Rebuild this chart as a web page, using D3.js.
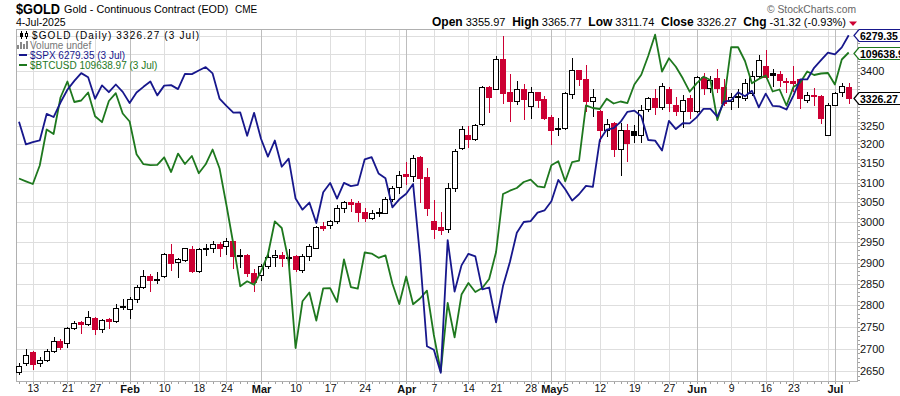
<!DOCTYPE html>
<html>
<head>
<meta charset="utf-8">
<script src="https://cdn.jsdelivr.net/npm/d3@7"></script>
<style>
  body { margin: 0; background: #fff; }
  svg { display: block; font-family: "Liberation Sans", Arial, sans-serif; }
</style>
</head>
<body>
<div id="chart"></div>
<script>
/* DATA */
const dates = ["01-08","01-10","01-13","01-14","01-15","01-16","01-17","01-21","01-22","01-23","01-24","01-27","01-28","01-29","01-30","01-31",
  "02-03","02-04","02-05","02-06","02-07","02-10","02-11","02-12","02-13","02-14","02-18","02-19","02-20","02-21","02-24","02-25","02-26","02-27","02-28",
  "03-03","03-04","03-05","03-06","03-07","03-10","03-11","03-12","03-13","03-14","03-17","03-18","03-19","03-20","03-21","03-24","03-25","03-26","03-27","03-28","03-31",
  "04-01","04-02","04-03","04-04","04-07","04-08","04-09","04-10","04-11","04-14","04-15","04-16","04-17","04-21","04-22","04-23","04-24","04-25","04-28","04-29","04-30",
  "05-01","05-02","05-05","05-06","05-07","05-08","05-09","05-12","05-13","05-14","05-15","05-16","05-19","05-20","05-21","05-22","05-23","05-27","05-28","05-29","05-30",
  "06-02","06-03","06-04","06-05","06-06","06-09","06-10","06-11","06-12","06-13","06-16","06-17","06-18","06-20","06-23","06-24","06-25","06-26","06-27","06-30",
  "07-01","07-02","07-03"];

const open = [2648,2669,2692,2668,2675,2696,2718,2713,2747,2760, 2757,2770,2744,2768,2764,2797,2791,2813,2842,2868,
  2862,2868,2921,2901,2907,2933,2881,2937,2937,2945, 2941,2952,2920,2919,2876,2871,2893,2914,2919,2913,
  2917,2883,2916,2937,2990,2992,3002,3035,3050,3048, 3026,3011,3025,3023,3057,3088,3122,3116,3167,3113,
  3002,2987,2982,3087,3190,3225,3213,3254,3355,3350, 3436,3341,3318,3351,3304,3341,3322,3274,3243,3244,
  3336,3403,3379,3318,3291,3238,3257,3187,3238,3236, 3226,3294,3325,3302,3349,3305,3291,3325,3291,3383,
  3354,3382,3356,3316,3330,3325,3340,3387,3414,3396, 3391,3374,3372,3377,3321,3333,3331,3225,3307,3341,3355.97];

const high = [2669,2699,2696,2681,2700,2727,2721,2749,2764,2763, 2787,2773,2768,2769,2802,2814,2819,2848,2882,2872,
  2879,2924,2946,2912,2937,2941,2937,2945,2954,2950, 2960,2954,2933,2921,2886,2898,2929,2930,2927,2933,
  2919,2921,2946,2991,3000,3006,3043,3054,3058,3052, 3035,3031,3035,3062,3091,3130,3153,3171,3168,3138,
  3056,3025,3100,3187,3248,3248,3254,3359,3359,3443, 3500,3391,3373,3365,3356,3343,3332,3279,3272,3341,
  3438,3403,3418,3350,3293,3268,3259,3256,3254,3252, 3307,3327,3350,3368,3355,3329,3334,3334,3386,3395,
  3386,3407,3379,3339,3350,3377,3400,3447,3462,3407, 3400,3382,3414,3377,3342,3354,3334,3311,3343,3366,3365.77];

const low = [2645,2664,2656,2661,2672,2692,2700,2703,2744,2735, 2755,2733,2739,2746,2760,2791,2770,2807,2839,2833,
  2851,2865,2882,2866,2905,2878,2879,2919,2926,2916, 2922,2888,2891,2869,2833,2859,2888,2893,2892,2891,
  2880,2879,2907,2935,2981,2984,2998,3026,3028,3002, 3003,3008,3014,3023,3054,3074,3097,3104,3050,3017,
  2960,2971,2974,3078,3187,3194,3212,3252,3286,3350, 3311,3262,3309,3268,3271,3300,3268,3202,3225,3242,
  3325,3362,3291,3277,3209,3223,3169,3120,3157,3207, 3205,3289,3282,3295,3291,3280,3247,3272,3287,3336,
  3343,3341,3307,3295,3301,3319,3335,3383,3381,3360, 3360,3341,3346,3298,3314,3306,3257,3225,3305,3330,3311.74];

const close = [2661,2686,2667,2675,2696,2717,2703,2747,2758,2757, 2772,2745,2766,2764,2793,2795,2813,2842,2868,2859,
  2860,2921,2900,2908,2935,2880,2934,2935,2945,2937, 2952,2917,2919,2875,2855,2893,2914,2919,2911,2912,
  2884,2917,2940,2987,2985,3002,3035,3050,3046,3025, 3010,3023,3024,3058,3085,3120,3116,3165,3111,3035,
  2983,2980,3087,3181,3240,3213,3252,3355,3327,3434, 3339,3316,3351,3323,3341,3320,3272,3238,3240,3338,
  3403,3377,3318,3327,3238,3254,3187,3238,3204,3226, 3293,3325,3302,3359,3312,3289,3321,3291,3383,3354,
  3375,3354,3313,3327,3328,3366,3388,3432,3384,3390, 3375,3371,3368,3325,3334,3330,3272,3307,3339,3357.59,3326.27];

const spx = [5918.25,5827.04,5836.22,5842.91,5949.91,5937.34,5996.66,6049.24,6086.37,6118.71, 6101.24,6012.28,6067.70,6039.31,6071.17,6040.53,5994.57,6037.88,6061.48,6083.57,
  6025.99,6066.44,6068.50,6051.97,6115.07,6114.63,6129.58,6144.15,6117.52,6013.13, 5983.25,5955.25,5956.06,5861.57,5954.50,5849.72,5778.15,5842.63,5738.52,5770.20,
  5614.56,5572.07,5599.30,5521.52,5638.94,5675.12,5614.66,5675.29,5662.89,5667.56, 5767.57,5776.65,5712.20,5693.31,5580.94,5611.85,5633.07,5670.97,5396.52,5074.08,
  5062.25,4982.77,5456.90,5268.05,5363.36,5405.97,5396.63,5275.70,5282.70,5158.20, 5287.76,5375.86,5484.77,5525.21,5528.75,5560.83,5569.06,5604.14,5686.67,5650.38,
  5606.91,5631.28,5663.94,5659.91,5844.19,5886.55,5892.58,5916.93,5958.38,5963.60, 5940.46,5844.61,5842.01,5802.82,5921.54,5888.55,5912.17,5911.69,5935.94,5970.37,
  5970.81,5939.30,6000.36,6005.88,6038.81,6022.24,6045.26,5976.97,6033.11,5982.72, 5980.87,5967.84,6025.17,6092.18,6092.16,6141.02,6173.07,6204.95,6198.01,6227.42,6279.35];

const btc = [95150,94851,94563,96552,100541,100035,104227,106121,103701,103876, 104815,102058,101372,103817,104733,102368,101451,97787,96693,96584,
  96627,97446,95849,97853,96715,97589,95719,96683,98304,96259, 92355,88391,84284,84760,84435,85718,87334,90678,89997,86687,
  78632,82873,83697,81102,84095,84120,82826,86863,84217,84060, 87550,87451,87029,87275,84550,82620,85218,82600,83134,83867,
  79791,76579,82715,79584,83509,84598,83746,84123,84980,87599, 93506,93853,94139,94776,95022,94319,94213,96574,97009,94851,
  96932,97075,103317,103003,102888,104087,103526,103759,103584,105762, 106935,109208,111856,107321,108926,107902,106503,104909,105905,106695,
  106299,101622,104051,110300,110290,108596,105905,106419,106839,104933, 105169,103293,105465,106000,107321,106899,107080,107139,105762,108780,109638.97];

const goldTicks = [2650,2700,2750,2800,2850,2900,2950,3000,3050,3100,3150,3200,3250,3300,3350,3400,3450,3500];
const weekMarks = ["01-13","01-21","01-27","02-10","02-18","02-24","03-10","03-17","03-24","03-31","04-07","04-14","04-21","04-28",
  "05-05","05-12","05-19","05-27","06-09","06-16","06-23","06-30"];
const monthMarks = ["02-03","03-03","04-01","05-01","06-02","07-01"];
const monthNames = ["Feb","Mar","Apr","May","Jun","Jul"];

/* LAYOUT */
const width = 900, height = 396;
const plot = { left: 16, right: 857, top: 29, bottom: 381 };
const red = "#cc0033", blue = "#17178c", green = "#1e781e";

const svg = d3.select("#chart").append("svg")
  .attr("width", width).attr("height", height);

// scales (each series has its own log scale, stockcharts style)
const x = d3.scalePoint().domain(dates).range([plot.left + 3, plot.right - 8.3]);
const yGold = d3.scaleLog().domain([2628.8, 3521.6]).range([plot.bottom, plot.top]);
const ySpx = d3.scaleLog().domain([4954.8, 6306.5]).range([plot.bottom, plot.top]);
const yBtc = d3.scaleLog().domain([75768, 112576]).range([plot.bottom, plot.top]);

const px = v => Math.round(v) + 0.5;

/* GRID */
const grid = svg.append("g").attr("shape-rendering", "crispEdges");
grid.selectAll("line.h").data(goldTicks.filter(d => yGold(d) > plot.top + 1))
  .join("line").attr("class", "h")
  .attr("x1", plot.left).attr("x2", plot.right)
  .attr("y1", d => px(yGold(d))).attr("y2", d => px(yGold(d)))
  .attr("stroke", "#dedede");
grid.selectAll("line.w").data(weekMarks)
  .join("line").attr("class", "w")
  .attr("x1", d => px(x(d))).attr("x2", d => px(x(d)))
  .attr("y1", plot.top).attr("y2", plot.bottom)
  .attr("stroke", "#dedede");
grid.selectAll("line.m").data(monthMarks)
  .join("line").attr("class", "m")
  .attr("x1", d => px(x(d))).attr("x2", d => px(x(d)))
  .attr("y1", plot.top).attr("y2", plot.bottom)
  .attr("stroke", "#bdbdbd");

// frame
svg.append("rect")
  .attr("x", plot.left + 0.5).attr("y", plot.top + 0.5)
  .attr("width", plot.right - plot.left).attr("height", plot.bottom - plot.top)
  .attr("fill", "none").attr("stroke", "#b0b0b0")
  .attr("shape-rendering", "crispEdges");

// small ticks along the bottom and right edge
svg.append("g").attr("shape-rendering", "crispEdges")
  .selectAll("line").data(dates).join("line")
  .attr("x1", d => px(x(d))).attr("x2", d => px(x(d)))
  .attr("y1", plot.bottom + 1).attr("y2", plot.bottom + 3)
  .attr("stroke", "#a0a0a0");
svg.append("g").attr("shape-rendering", "crispEdges")
  .selectAll("line").data(d3.range(2630, 3521, 10)).join("line")
  .attr("x1", plot.right + 1).attr("x2", plot.right + 3)
  .attr("y1", d => px(yGold(d))).attr("y2", d => px(yGold(d)))
  .attr("stroke", "#a0a0a0");

/* CANDLES */
const candles = dates.map((d, i) => ({
  date: d, o: open[i], h: high[i], l: low[i], c: close[i],
  prev: i ? close[i - 1] : open[i]
}));
const candleColor = d => d.c >= d.prev ? "#000" : red;

const cg = svg.append("g").attr("shape-rendering", "crispEdges");
cg.selectAll("line").data(candles).join("line")
  .attr("x1", d => px(x(d.date))).attr("x2", d => px(x(d.date)))
  .attr("y1", d => Math.round(yGold(d.h))).attr("y2", d => Math.round(yGold(d.l)) + 1)
  .attr("stroke", candleColor);
cg.selectAll("rect").data(candles).join("rect")
  .attr("x", d => Math.round(x(d.date)) - 2.5)
  .attr("width", 5)
  .attr("y", d => Math.round(yGold(Math.max(d.o, d.c))) + 0.5)
  .attr("height", d => Math.max(1, Math.round(yGold(Math.min(d.o, d.c))) - Math.round(yGold(Math.max(d.o, d.c)))))
  .attr("fill", d => d.c < d.o ? candleColor(d) : "#fff")
  .attr("stroke", candleColor);

/* OVERLAY LINES */
svg.append("clipPath").attr("id", "plotclip").append("rect")
  .attr("x", plot.left + 1).attr("y", plot.top + 1)
  .attr("width", plot.right - plot.left - 1).attr("height", plot.bottom - plot.top - 1);

const spxLine = d3.line().x((d, i) => x(dates[i])).y(d => ySpx(d));
const btcLine = d3.line().x((d, i) => x(dates[i])).y(d => yBtc(d));

svg.append("path").datum(btc)
  .attr("clip-path", "url(#plotclip)")
  .attr("d", btcLine).attr("fill", "none")
  .attr("stroke", green).attr("stroke-width", 1.8).attr("stroke-linejoin", "round");
svg.append("path").datum(spx)
  .attr("clip-path", "url(#plotclip)")
  .attr("d", spxLine).attr("fill", "none")
  .attr("stroke", blue).attr("stroke-width", 1.8).attr("stroke-linejoin", "round");

/* RIGHT AXIS */
const tags = [
  { y: ySpx(spx[spx.length - 1]), text: d3.format(".2f")(spx[spx.length - 1]), color: blue },
  { y: yBtc(btc[btc.length - 1]), text: d3.format(".2f")(btc[btc.length - 1]), color: green },
  { y: yGold(close[close.length - 1]), text: d3.format(".2f")(close[close.length - 1]), color: "#000" }
];

const yAxis = d3.axisRight(yGold).tickValues(goldTicks).tickSize(0).tickPadding(3).tickFormat(d3.format("d"));
const yAxisG = svg.append("g")
  .attr("transform", `translate(${plot.right},0)`)
  .call(yAxis);
yAxisG.select(".domain").remove();
yAxisG.selectAll("text")
  .attr("font-family", "Liberation Sans, Arial, sans-serif")
  .attr("font-size", 11).attr("fill", "#111");
// hide labels that collide with the value tags (or fall outside the plot)
yAxisG.selectAll(".tick")
  .filter(d => yGold(d) < plot.top + 4 || tags.some(t => Math.abs(t.y - yGold(d)) < 12))
  .remove();

const tagG = svg.append("g").selectAll("g").data(tags).join("g")
  .attr("transform", d => `translate(0,${Math.round(d.y)})`);
tagG.append("path")
  .attr("d", `M${plot.right - 3},0.5 L${plot.right + 2},-5.5 L${width + 5},-5.5 L${width + 5},6.5 L${plot.right + 2},6.5 Z`)
  .attr("fill", "#fff").attr("stroke", d => d.color).attr("stroke-width", 1.2);
tagG.append("text")
  .attr("x", plot.right + 3).attr("y", 4.5)
  .attr("font-size", 10.5).attr("font-weight", "bold").attr("fill", "#000")
  .text(d => d.text);

/* X AXIS */
const dayLabels = weekMarks.filter(w =>
  !monthMarks.some(m => Math.abs(dates.indexOf(w) - dates.indexOf(m)) < 2));

const xDays = svg.append("g")
  .attr("transform", `translate(0,${plot.bottom})`)
  .call(d3.axisBottom(x).tickValues(dayLabels).tickSize(0).tickPadding(4)
    .tickFormat(d => String(+d.slice(3))));
const xMonths = svg.append("g")
  .attr("transform", `translate(0,${plot.bottom})`)
  .call(d3.axisBottom(x).tickValues(monthMarks).tickSize(0).tickPadding(4)
    .tickFormat((d, i) => monthNames[i]));
[xDays, xMonths].forEach(g => {
  g.select(".domain").remove();
  g.selectAll("text").attr("font-family", "Liberation Sans, Arial, sans-serif").attr("fill", "#111");
});
xDays.selectAll("text").attr("font-size", 10.5);
xMonths.selectAll("text").attr("font-size", 11).attr("font-weight", "bold");

/* HEADER */
svg.append("text").attr("x", 16).attr("y", 14)
  .attr("font-size", 15).attr("font-weight", "bold").attr("textLength", 44)
  .attr("lengthAdjust", "spacingAndGlyphs").text("$GOLD");
svg.append("text").attr("x", 64).attr("y", 13)
  .attr("font-size", 10.8)
  .text("Gold - Continuous Contract (EOD)");
svg.append("text").attr("x", 235).attr("y", 13)
  .attr("font-size", 10).text("CME");
svg.append("text").attr("x", 16).attr("y", 26)
  .attr("font-size", 10.5).text("4-Jul-2025");
svg.append("text").attr("x", 856).attr("y", 13).attr("text-anchor", "end")
  .attr("font-size", 11.5).attr("fill", "#666").attr("textLength", 89)
  .attr("lengthAdjust", "spacingAndGlyphs").text("\u00A9 StockCharts.com");

const ohlc = svg.append("text").attr("x", 846).attr("y", 26).attr("text-anchor", "end");
[["Open", "3355.97"], ["High", "3365.77"], ["Low", "3311.74"], ["Close", "3326.27"], ["Chg", "-31.32 (-0.93%)"]]
  .forEach(([k, v], i) => {
    ohlc.append("tspan").attr("font-size", 12).attr("font-weight", "bold").text((i ? "  " : "") + k);
    ohlc.append("tspan").attr("font-size", 11).text(" " + v);
  });
ohlc.attr("xml:space", "preserve");
svg.append("path").attr("d", "M849,21.5 L857,21.5 L853,26 Z").attr("fill", red);

/* LEGEND */
const legend = svg.append("g").attr("font-size", 10);
legend.append("text").attr("x", 32).attr("y", 38.5)
  .attr("textLength", 167).attr("lengthAdjust", "spacing").attr("fill", "#000")
  .text("$GOLD (Daily) 3326.27 (3 Jul)");
legend.append("text").attr("x", 30).attr("y", 49).attr("fill", "#777").text("Volume undef");
legend.append("text").attr("x", 30).attr("y", 58.5).attr("fill", blue).text("$SPX 6279.35 (3 Jul)");
legend.append("text").attr("x", 30).attr("y", 68.5).attr("fill", green).text("$BTCUSD 109638.97 (3 Jul)");

// legend icons
const icons = legend.append("g").attr("shape-rendering", "crispEdges");
icons.append("line").attr("x1", 21.5).attr("x2", 21.5).attr("y1", 31).attr("y2", 39).attr("stroke", "#000");
icons.append("rect").attr("x", 20).attr("y", 33).attr("width", 3).attr("height", 4).attr("fill", "#000");
icons.append("line").attr("x1", 26.5).attr("x2", 26.5).attr("y1", 31).attr("y2", 39).attr("stroke", "#000");
icons.append("rect").attr("x", 25.5).attr("y", 33.5).attr("width", 2).attr("height", 3).attr("fill", "#fff").attr("stroke", "#000");
[4, 7, 5, 8].forEach((h, i) => icons.append("rect")
  .attr("x", 17 + i * 3).attr("y", 49 - h).attr("width", 2).attr("height", h).attr("fill", "#888"));
icons.append("rect").attr("x", 19).attr("y", 54).attr("width", 8).attr("height", 2).attr("fill", blue);
icons.append("rect").attr("x", 19).attr("y", 64).attr("width", 8).attr("height", 2).attr("fill", green);
</script>
</body>
</html>
